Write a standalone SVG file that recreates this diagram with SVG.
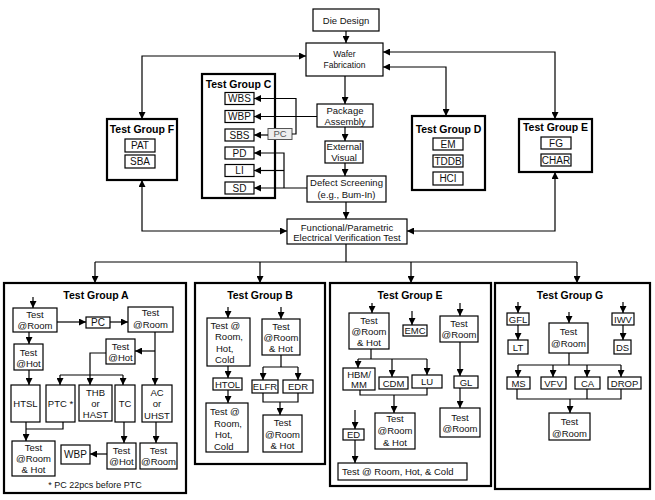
<svg xmlns="http://www.w3.org/2000/svg" width="655" height="500" viewBox="0 0 655 500">
<defs>
<marker id="ah" markerUnits="userSpaceOnUse" markerWidth="7" markerHeight="7" refX="7" refY="3.5" orient="auto-start-reverse">
<path d="M0,0 L7,3.5 L0,7 z" fill="#000"/>
</marker>
<style>
.b{fill:#fff;stroke:#000;stroke-width:1.2}
.g{fill:#fff;stroke:#000;stroke-width:2.2}
.pc{fill:#eee;stroke:#555;stroke-width:1}
text{font-family:"Liberation Sans",Arial,sans-serif;font-size:9.5px;fill:#111;text-anchor:middle}
.h{font-weight:bold;font-size:10.5px;fill:#000}
.s{font-size:8.5px}
.l{text-anchor:start}
.m{font-size:10px}
.c path{fill:none;stroke:#000;stroke-width:1.2}
.c .a{marker-end:url(#ah)}
.c .d{marker-start:url(#ah);marker-end:url(#ah)}
</style>
</defs>
<rect width="655" height="500" fill="#fff"/>

<!-- main flow -->
<g id="die"><rect class="b" x="313" y="9" width="66" height="22"/><text x="346" y="23.5">Die Design</text></g>
<g id="wafer"><rect class="b" x="306" y="43" width="77" height="33"/><text class="s" x="344.5" y="57">Wafer</text><text class="s" x="344.5" y="68">Fabrication</text></g>
<g id="package"><rect class="b" x="317" y="104" width="56" height="23"/><text x="345" y="114">Package</text><text x="345" y="124.5">Assembly</text></g>
<g id="visual"><rect class="b" x="325" y="141" width="38" height="22"/><text x="344" y="150">External</text><text x="344" y="160.5">Visual</text></g>
<g id="defect"><rect class="b" x="307" y="176" width="79" height="26"/><text x="346.5" y="185.5">Defect Screening</text><text x="346.5" y="197.5">(e.g., Bum-In)</text></g>
<g id="functional"><rect class="b" x="287" y="219" width="120" height="25"/><text x="347" y="230.5">Functional/Parametric</text><text x="347" y="241">Electrical Verification Test</text></g>

<!-- Test Group C -->
<g id="groupC">
<rect class="g" x="202" y="74" width="73" height="124"/>
<text class="h" x="238.5" y="87.5">Test Group C</text>
<rect class="b" x="225" y="92.5" width="29" height="12"/><text class="m" x="239.5" y="102.2">WBS</text>
<rect class="b" x="225" y="110.5" width="29" height="12"/><text class="m" x="239.5" y="120.2">WBP</text>
<rect class="b" x="225" y="129" width="29" height="12"/><text class="m" x="239.5" y="138.7">SBS</text>
<rect class="b" x="225" y="147" width="29" height="12"/><text class="m" x="239.5" y="156.7">PD</text>
<rect class="b" x="225" y="164.5" width="29" height="12"/><text class="m" x="239.5" y="174.2">LI</text>
<rect class="b" x="225" y="182" width="29" height="12"/><text class="m" x="239.5" y="191.7">SD</text>
</g>
<g id="pcC"><rect class="pc" x="268" y="128.5" width="24" height="11"/><text x="280" y="137.3" fill="#555" style="fill:#555">PC</text></g>

<!-- Test Group F -->
<g id="groupF">
<rect class="g" x="107" y="119" width="70" height="61"/>
<text class="h" x="142" y="133">Test Group F</text>
<rect class="b" x="125" y="139" width="30" height="13"/><text class="m" x="140" y="149">PAT</text>
<rect class="b" x="125" y="155" width="30" height="13"/><text class="m" x="140" y="165">SBA</text>
</g>

<!-- Test Group D -->
<g id="groupD">
<rect class="g" x="412" y="116" width="73" height="74"/>
<text class="h" x="448.5" y="133">Test Group D</text>
<rect class="b" x="433" y="138" width="30" height="12"/><text class="m" x="448" y="147.5">EM</text>
<rect class="b" x="433" y="155" width="30" height="12"/><text class="m" x="448" y="164.5">TDDB</text>
<rect class="b" x="433" y="172" width="30" height="13"/><text class="m" x="448" y="182">HCI</text>
</g>

<!-- Test Group E (top) -->
<g id="groupEtop">
<rect class="g" x="519" y="119" width="73" height="53"/>
<text class="h" x="555.5" y="131">Test Group E</text>
<rect class="b" x="541" y="137" width="30" height="12"/><text class="m" x="556" y="146.5">FG</text>
<rect class="b" x="541" y="154" width="30" height="12"/><text class="m" x="556" y="163.5">CHAR</text>
</g>

<!-- Test Group A -->
<g id="groupA">
<rect class="g" x="4" y="283" width="182" height="210"/>
<text class="h" x="96" y="298.5">Test Group A</text>
<rect class="b" x="13" y="308" width="44" height="24"/><text x="35" y="317.5">Test</text><text x="35" y="328.5">@Room</text>
<rect class="b" x="86" y="317" width="24" height="11"/><text class="m" x="98" y="326">PC</text>
<rect class="b" x="128" y="307" width="45" height="25"/><text x="150.5" y="316">Test</text><text x="150.5" y="327.5">@Room</text>
<rect class="b" x="14" y="344" width="29" height="26"/><text x="28.5" y="355.5">Test</text><text x="28.5" y="366.5">@Hot</text>
<rect class="b" x="106" y="339" width="29" height="25"/><text x="120.5" y="349.5">Test</text><text x="120.5" y="360.5">@Hot</text>
<rect class="b" x="11" y="385" width="29" height="37"/><text x="25.5" y="406.5">HTSL</text>
<rect class="b" x="46" y="385" width="29" height="37"/><text x="60.5" y="406.5">PTC *</text>
<rect class="b" x="79" y="385" width="33" height="36"/><text x="95.5" y="395.5">THB</text><text x="95.5" y="406.5">or</text><text x="95.5" y="418">HAST</text>
<rect class="b" x="115" y="385" width="20" height="37"/><text x="125" y="406.5">TC</text>
<rect class="b" x="142" y="385" width="30" height="37"/><text x="157" y="395.5">AC</text><text x="157" y="406.5">or</text><text x="157" y="418.5">UHST</text>
<rect class="b" x="12" y="441" width="43" height="35"/><text x="33.5" y="450.5">Test</text><text x="33.5" y="461.5">@Room</text><text x="33.5" y="472.5">&amp; Hot</text>
<rect class="b" x="61" y="445" width="29" height="19"/><text class="m" x="75.5" y="458">WBP</text>
<rect class="b" x="107" y="443" width="29" height="26"/><text x="121.5" y="453.5">Test</text><text x="121.5" y="464.5">@Hot</text>
<rect class="b" x="140" y="443" width="37" height="26"/><text x="158.5" y="453.5">Test</text><text x="158.5" y="464.5">@Room</text>
<text style="font-size:9px" x="95" y="487.5">* PC 22pcs before PTC</text>
</g>

<!-- Test Group B -->
<g id="groupB">
<rect class="g" x="195" y="283" width="130" height="181"/>
<text class="h" x="260" y="298.5">Test Group B</text>
<rect class="b" x="207" y="318" width="43" height="48"/>
<text class="l" x="210.5" y="328.5">Test @</text><text class="l" x="215" y="340">Room,</text><text class="l" x="216" y="351.5">Hot,</text><text class="l" x="215" y="363">Cold</text>
<rect class="b" x="213" y="378" width="29" height="12"/><text x="227.5" y="387.5">HTOL</text>
<rect class="b" x="206" y="403" width="42" height="49"/>
<text class="l" x="210" y="415">Test @</text><text class="l" x="214" y="426.5">Room,</text><text class="l" x="215" y="438">Hot,</text><text class="l" x="214" y="449.5">Cold</text>
<rect class="b" x="262" y="319" width="38" height="36"/><text x="281" y="329.5">Test</text><text x="281" y="340.5">@Room</text><text x="281" y="352">&amp; Hot</text>
<rect class="b" x="252" y="380" width="26" height="13"/><text x="265" y="390">ELFR</text>
<rect class="b" x="283" y="380" width="30" height="13"/><text x="298" y="390">EDR</text>
<rect class="b" x="263" y="415" width="39" height="37"/><text x="282.5" y="426">Test</text><text x="282.5" y="437.5">@Room</text><text x="282.5" y="449">&amp; Hot</text>
</g>

<!-- Test Group E (bottom) -->
<g id="groupE">
<rect class="g" x="330" y="283" width="161" height="203"/>
<text class="h" x="410" y="298.5">Test Group E</text>
<rect class="b" x="349" y="313" width="40" height="36"/><text x="369" y="323.5">Test</text><text x="369" y="335">@Room</text><text x="369" y="346">&amp; Hot</text>
<rect class="b" x="403" y="325" width="24" height="11"/><text x="415" y="334">EMC</text>
<rect class="b" x="440" y="316" width="38" height="26"/><text x="459" y="326.5">Test</text><text x="459" y="337.5">@Room</text>
<rect class="b" x="454" y="376" width="24" height="12"/><text x="466" y="385.5">GL</text>
<rect class="b" x="440" y="408" width="40" height="29"/><text x="460" y="420.5">Test</text><text x="460" y="431.5">@Room</text>
<rect class="b" x="343" y="368" width="32" height="22"/><text x="359" y="377.5">HBM/</text><text x="359" y="387.5">MM</text>
<rect class="b" x="379" y="377" width="29" height="12"/><text x="393.5" y="386.5">CDM</text>
<rect class="b" x="412" y="375" width="30" height="13"/><text x="427" y="385">LU</text>
<rect class="b" x="375" y="413" width="40" height="36"/><text x="395" y="422">Test</text><text x="395" y="434">@Room</text><text x="395" y="445.5">&amp; Hot</text>
<rect class="b" x="343" y="429" width="21" height="11"/><text x="353.5" y="438">ED</text>
<rect class="b" x="338" y="463" width="129" height="17"/><text class="l" x="342" y="474.5">Test @ Room, Hot, &amp; Cold</text>
</g>

<!-- Test Group G -->
<g id="groupG">
<rect class="g" x="495" y="283" width="155" height="206"/>
<text class="h" x="570" y="298.5">Test Group G</text>
<rect class="b" x="507" y="313" width="22" height="12"/><text x="518" y="322.5">GFL</text>
<rect class="b" x="508" y="340" width="20" height="14"/><text x="518" y="350.5">LT</text>
<rect class="b" x="549" y="323" width="39" height="30"/><text x="568.5" y="335">Test</text><text x="568.5" y="346.5">@Room</text>
<rect class="b" x="612" y="313" width="22" height="12"/><text x="623" y="322.5">IWV</text>
<rect class="b" x="614" y="340" width="17" height="14"/><text x="622.5" y="350.5">DS</text>
<rect class="b" x="507" y="377" width="23" height="12"/><text x="518.5" y="386.5">MS</text>
<rect class="b" x="541" y="377" width="25" height="12"/><text x="553.5" y="386.5">VFV</text>
<rect class="b" x="575" y="377" width="25" height="12"/><text x="587.5" y="386.5">CA</text>
<rect class="b" x="608" y="377" width="33" height="12"/><text x="624.5" y="386.5">DROP</text>
<rect class="b" x="549" y="413" width="41" height="27"/><text x="569.5" y="425">Test</text><text x="569.5" y="436.5">@Room</text>
</g>

<g id="connectors" class="c">
<!-- main flow -->
<path class="a" d="M346,31 V43"/>
<path class="a" d="M345,76 V104"/>
<path class="a" d="M345,127 V141"/>
<path class="a" d="M345,163 V176"/>
<path class="a" d="M346,202 V219"/>
<path class="d" d="M306,56 H142 V119"/>
<path class="d" d="M383,52 H555 V119"/>
<path class="d" d="M383,67 H446 V116"/>
<path class="d" d="M287,231 H142 V180"/>
<path class="d" d="M407,231 H555 V172"/>
<path d="M346,244 V262 M95,262 H577"/>
<path class="a" d="M95,262 V283"/>
<path class="a" d="M260,262 V283"/>
<path class="a" d="M411,262 V283"/>
<path class="a" d="M577,262 V283"/>
<!-- group C -->
<path class="a" d="M292,134 H296 V98.5 H254"/>
<path class="a" d="M317,116.5 H254"/>
<path class="a" d="M268,135 H254"/>
<path class="a" d="M307,188 H254"/>
<path class="a" d="M284,188 V153 H254"/>
<path class="a" d="M284,170.5 H254"/>
<!-- group A -->
<path class="a" d="M33,297 V308"/>
<path class="a" d="M57,322 H86"/>
<path class="a" d="M110,322 H128"/>
<path class="a" d="M29,332 V344"/>
<path class="a" d="M155,332 V385"/>
<path class="a" d="M155,351 H135"/>
<path class="a" d="M106,353 H90 V385"/>
<path d="M60,375 H123"/>
<path class="a" d="M60,375 V385"/>
<path class="a" d="M123,375 V385"/>
<path class="a" d="M29,370 V385"/>
<path d="M63,422 V429 H26"/>
<path class="a" d="M26,422 V441"/>
<path class="a" d="M124,422 V443"/>
<path class="a" d="M107,454 H90"/>
<path class="a" d="M156,422 V443"/>
<!-- group B -->
<path class="a" d="M228,307 V318"/>
<path class="a" d="M228,366 V378"/>
<path class="a" d="M228,390 V403"/>
<path class="a" d="M281,307 V319"/>
<path d="M281,355 V367 M263,367 H298"/>
<path class="a" d="M263,367 V380"/>
<path class="a" d="M298,367 V380"/>
<path d="M263,393 V402 H298 V393"/>
<path class="a" d="M280,402 V415"/>
<!-- group E -->
<path class="a" d="M372,303 V313"/>
<path class="a" d="M412,311 V325"/>
<path class="a" d="M460,303 V316"/>
<path class="a" d="M460,342 V376"/>
<path class="a" d="M460,388 V408"/>
<path d="M371,349 V359 M358,359 H427"/>
<path class="a" d="M358,359 V368"/>
<path class="a" d="M392,359 V377"/>
<path class="a" d="M427,359 V375"/>
<path d="M360,390 V395 H427 V388"/>
<path class="a" d="M394,395 V413"/>
<path class="a" d="M355,410 V429"/>
<path class="a" d="M355,440 V463"/>
<!-- group G -->
<path class="a" d="M518,302 V313"/>
<path class="a" d="M518,325 V340"/>
<path class="a" d="M569,312 V323"/>
<path class="a" d="M623,302 V313"/>
<path class="a" d="M623,325 V340"/>
<path d="M569,353 V365 M518,365 H621"/>
<path class="a" d="M518,365 V377"/>
<path class="a" d="M553,365 V377"/>
<path class="a" d="M587,365 V377"/>
<path class="a" d="M621,365 V377"/>
<path d="M517,389 V399 H621 V389 M587,389 V399"/>
<path class="a" d="M570,399 V413"/>
</g>
</svg>
